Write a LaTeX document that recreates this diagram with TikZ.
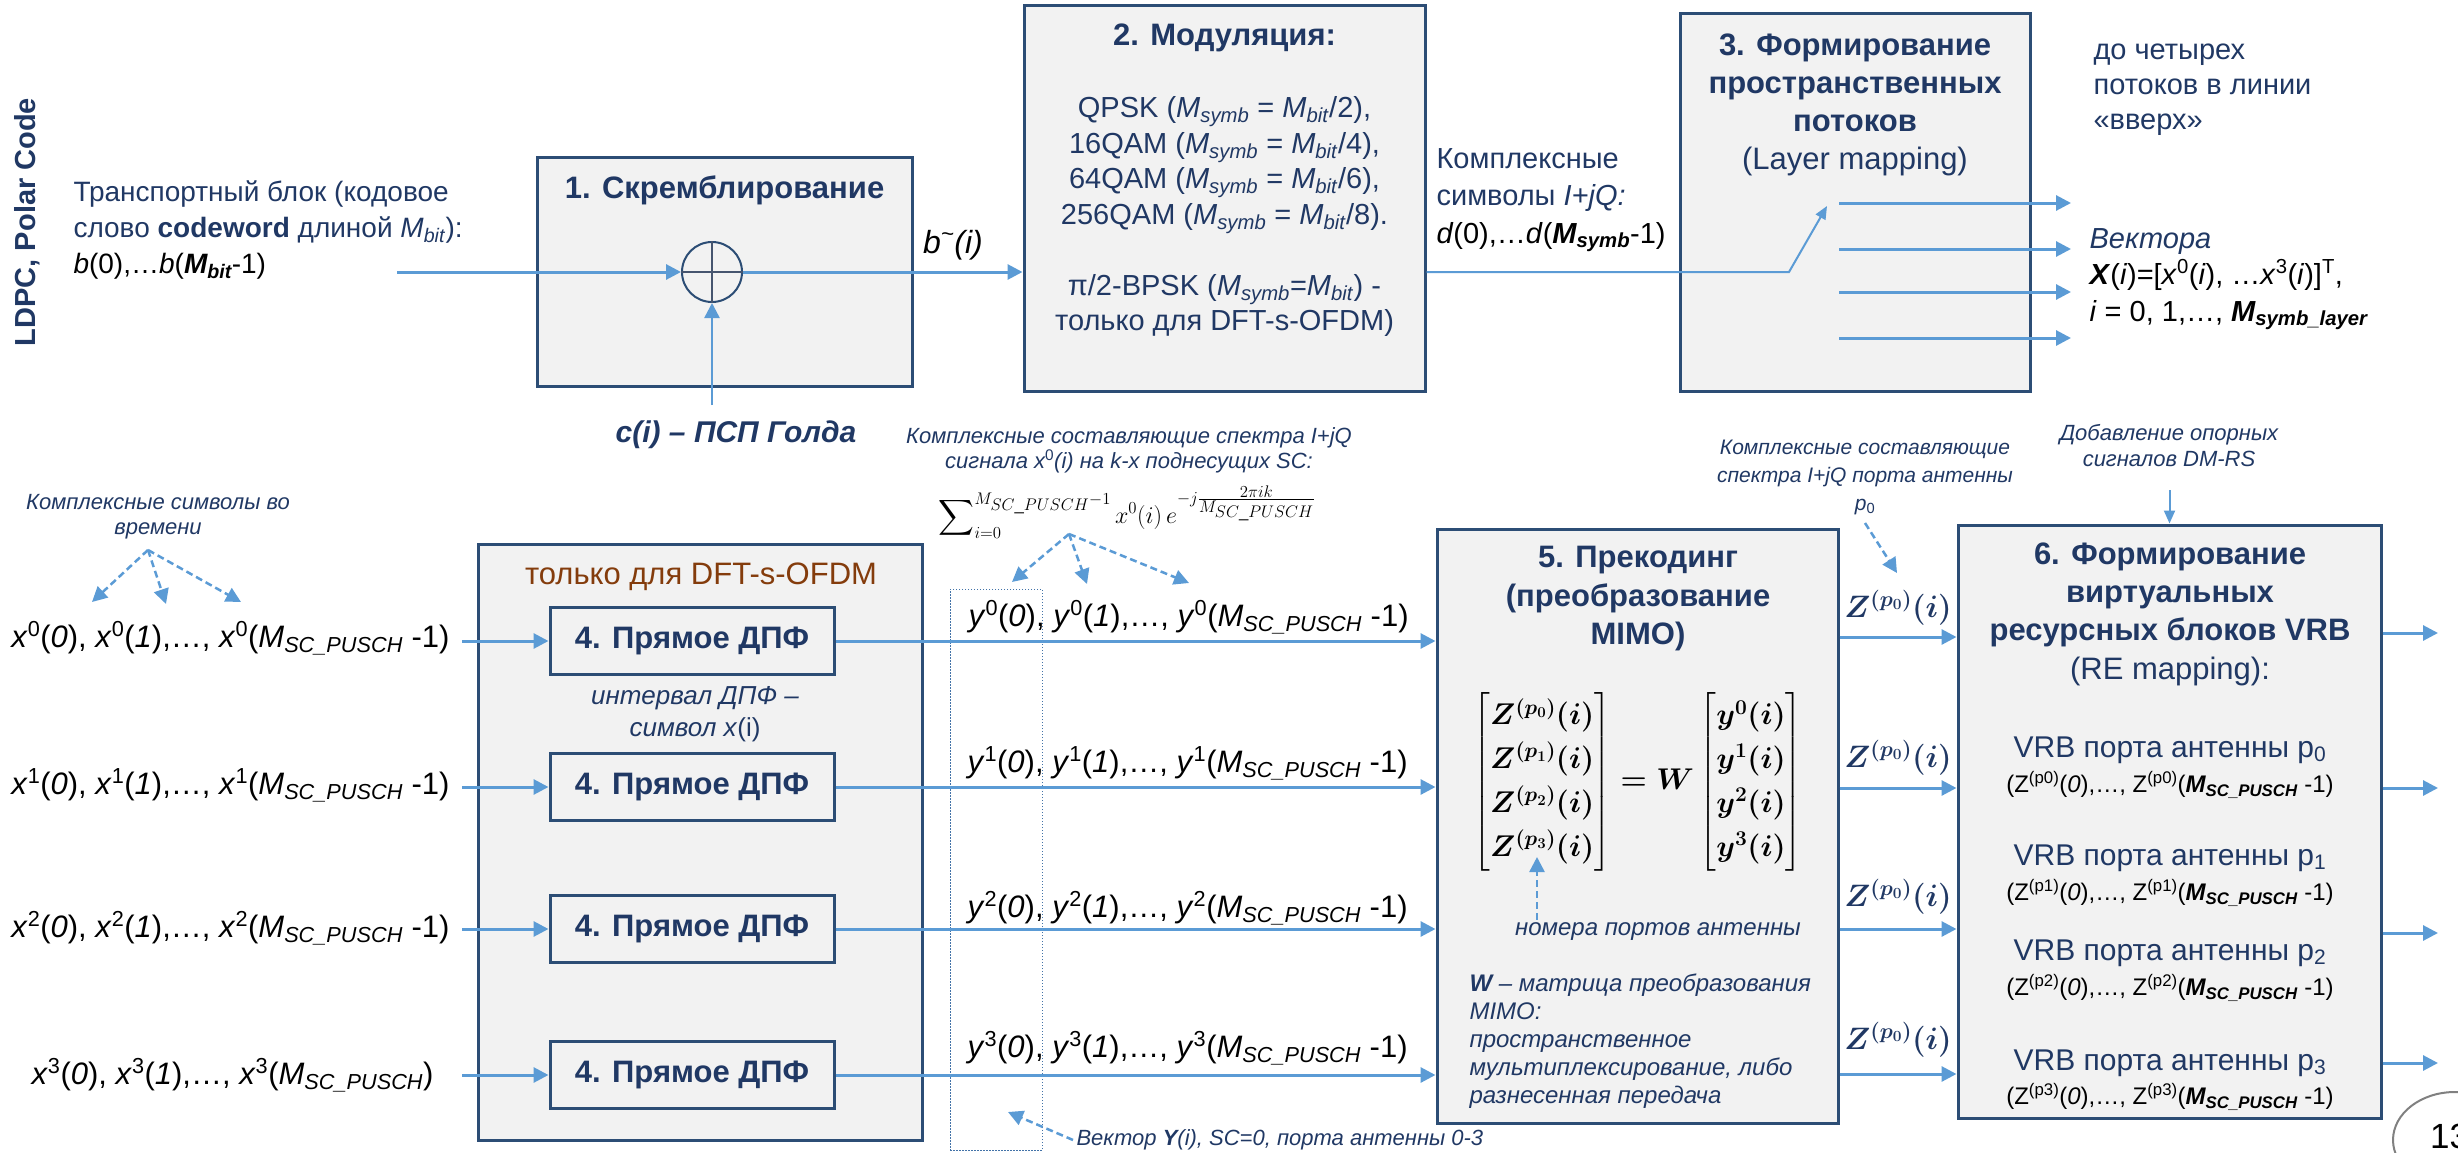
\RequirePackage{fix-cm}
\documentclass[tikz,border=0pt]{standalone}
\usepackage{amsmath}
\usepackage{bm}
\usepackage[no-math]{fontspec}
\setmainfont{Liberation Sans}
\usetikzlibrary{arrows.meta}

\definecolor{dkblue}{HTML}{203864}
\definecolor{bordblue}{HTML}{2C4D75}
\definecolor{arrblue}{HTML}{5B9BD5}
\definecolor{boxgray}{HTML}{F2F2F2}
\definecolor{dftbrown}{HTML}{843C0C}
\definecolor{pagegray}{HTML}{808080}

\newcommand\fsz[2]{\fontsize{#1}{#2}\selectfont}
\newcommand\lowtxt[1]{\textsubscript{#1}}
\newcommand\hightxt[1]{\textsuperscript{#1}}
\newcommand\Msc{\textit{M}\lowtxt{\textit{SC\_PUSCH}}}
\newcommand\Mscb{\textbf{\textit{M\lowtxt{SC\_PUSCH}}}}
\newcommand\Msymb{\textit{M}\lowtxt{\textit{symb}}}
\newcommand\Mbit{\textit{M}\lowtxt{\textit{bit}}}
\newcommand\zlab{{\boldmath$Z^{(p_0)}(i)$}}
\newsavebox\mtxbox
\newsavebox\sumbox

\begin{document}
% precoding equation, set once and placed as a box
\sbox\mtxbox{\fsz{30}{36}\renewcommand\arraystretch{1.22}\boldmath
  $\left[\begin{array}{@{}c@{}} Z^{(p_0)}(i)\\ Z^{(p_1)}(i)\\ Z^{(p_2)}(i)\\ Z^{(p_3)}(i)\end{array}\right]
   = W \left[\begin{array}{@{}c@{}} y^{0}(i)\\ y^{1}(i)\\ y^{2}(i)\\ y^{3}(i)\end{array}\right]$}%
% DFT of the first stream
\sbox\sumbox{\fsz{24}{28}%
  $\displaystyle\sum\nolimits_{i=0}^{M_{\scriptstyle SC\_PUSCH}-1} x^{0}(i)\,
   e^{-j\frac{\scriptstyle 2\pi ik}{\scriptstyle M_{\scriptstyle SC\_PUSCH}}}$}%
\begin{tikzpicture}[x=1pt,y=-1pt,
  blk/.style={draw=bordblue, line width=3pt, fill=boxgray, inner sep=0pt},
  arr/.style={draw=arrblue, line width=3pt, -{Triangle[length=15pt,width=15pt]}},
  tarr/.style={draw=arrblue, line width=2pt, -{Triangle[length=13pt,width=11pt]}},
  darr/.style={draw=arrblue, line width=2.5pt, dash pattern=on 7pt off 4pt, -{Triangle[length=15pt,width=15pt]}},
  ttl/.style={text=dkblue, font=\bfseries\fsz{31}{38.5}, align=center},
  txt/.style={text=dkblue, font=\fsz{29}{35}, align=center},
  anno/.style={text=dkblue, font=\itshape\fsz{22}{25}, align=center},
  rowtxt/.style={text=black, font=\fsz{31}{36}},
]
\useasboundingbox (0,0) rectangle (2458,1153);

% ---------- block frames ----------
\node[blk, minimum width=375pt, minimum height=228pt] (b1) at (724.5,272) {};
\node[blk, minimum width=401pt, minimum height=385pt] (b2) at (1224.5,198.5) {};
\node[blk, minimum width=350pt, minimum height=377pt] (b3) at (1855,202.5) {};
\node[blk, minimum width=444pt, minimum height=596pt] (dft) at (700,842) {};
\node[blk, minimum width=401pt, minimum height=594pt] (b5) at (1637.5,826) {};
\node[blk, minimum width=423pt, minimum height=593pt] (b6) at (2169.5,821.5) {};
\foreach \k/\yy in {1/641,2/787,3/929,4/1075}
  \node[blk, ttl, minimum width=284pt, minimum height=67pt] (d\k) at (692,\yy) {4. Прямое ДПФ};
\node[draw=arrblue!60!dkblue, line width=1pt, dash pattern=on 1.5pt off 1.5pt,
      minimum width=92pt, minimum height=561pt, inner sep=0pt] (yvec) at (996,869.5) {};

% ---------- 1. scrambling ----------
\node[rotate=90, text=dkblue, font=\bfseries\fsz{29}{34}] (ldpc) at (27,222) {LDPC, Polar Code};
\node[txt, anchor=west, align=left, font=\fsz{28}{36}] (tb) at (70,230)
  {Транспортный блок (кодовое\\
   слово \textbf{codeword} длиной \Mbit):\\
   \textcolor{black}{\textit{b}(0),…\textit{b}(\textbf{\textit{M\lowtxt{bit}}}-1)}};
\node[ttl] (b1t) at (724.5,190) {1. Скремблирование};
\node[circle, draw=bordblue, line width=2pt, minimum size=60pt, inner sep=0pt] (xor) at (712,272) {};
\draw[draw=dkblue!60!gray, line width=2.5pt] (xor.north) -- (xor.south) (xor.west) -- (xor.east);
\coordinate (tbin) at (397,272);
\draw[arr] (tbin) -- (xor.west);
\coordinate (cin) at (712,405);
\draw[arr, line width=2.5pt] (cin) -- (xor.south);
\node[text=dkblue, font=\bfseries\itshape\fsz{30}{36}] (gold) at (736,435) {c(i) – ПСП Голда};
\node[font=\itshape\fsz{32}{36}] (bt) at (953,245) {b\textsuperscript{\textasciitilde}(i)};
\draw[arr] (xor.east) -- (xor.east -| b2.west);

% ---------- 2. modulation ----------
\node[ttl] (b2t) at (1224.5,38) {2. Модуляция:};
\node[txt, font=\fsz{29}{35.5}] (mods) at (1224.5,165)
  {QPSK (\Msymb\ = \Mbit/2),\\
   16QAM (\Msymb\ = \Mbit/4),\\
   64QAM (\Msymb\ = \Mbit/6),\\
   256QAM (\Msymb\ = \Mbit/8).};
\node[txt] (bpsk) at (1224.5,305.5)
  {π/2-BPSK (\Msymb=\Mbit) -\\ только для DFT-s-OFDM)};

\coordinate (bend) at (1789,272);
\coordinate (lm) at (1827,206);
\draw[tarr] (b2.east |- bend) -- (bend) -- (lm);
\node[txt, anchor=west, align=left, font=\fsz{29}{37.5}] (cs) at (1433,200)
  {Комплексные\\ символы \textit{I+jQ:}\\
   \textcolor{black}{\textit{d}(0),…\textit{d}(\textbf{\textit{M\lowtxt{symb}}}-1)}};

% ---------- 3. layer mapping ----------
\node[ttl, font=\fsz{31}{38}] (b3t) at (1855,104.5)
  {\textbf{3. Формирование}\\ \textbf{пространственных}\\ \textbf{потоков}\\ (Layer mapping)};
\foreach \k/\yy in {1/203,2/249,3/292,4/338} {
  \coordinate (ls\k) at (1839,\yy);
  \coordinate (le\k) at (2071,\yy);
  \draw[arr] (ls\k) -- (le\k);
}
\node[txt, anchor=west, align=left] (upl) at (2090,90) {до четырех\\ потоков в линии\\ «вверх»};
\node[anchor=west, align=left, font=\fsz{29}{36.5}] (vec) at (2086,279)
  {\textcolor{dkblue}{\textit{Вектора}}\\
   \textbf{\textit{X}}(\textit{i})=[\textit{x}\hightxt{0}(\textit{i}), …\textit{x}\hightxt{3}(\textit{i})]\hightxt{T},\\
   \textit{i} = 0, 1,…, \textbf{\textit{M\lowtxt{symb\_layer}}}};

% ---------- 4. DFT ----------
\node[anno] (cst) at (158,517) {Комплексные символы во\\ времени};
\coordinate (cst0) at (148,550);
\coordinate (xa1) at (92,602);
\coordinate (xa2) at (166,604);
\coordinate (xa3) at (241,602);
\foreach \k in {1,2,3} \draw[darr] (cst0) -- (xa\k);

\node[text=dftbrown, font=\fsz{31}{36}] (dftl) at (701,577) {только для DFT-s-OFDM};
\node[anno, font=\itshape\fsz{26}{32}] (ivl) at (695,714) {интервал ДПФ –\\ символ x\textup{(i)}};

\node[rowtxt, anchor=east] (x0) at (453,638)
  {\textit{x}\hightxt{0}(\textit{0}), \textit{x}\hightxt{0}(\textit{1}),…, \textit{x}\hightxt{0}(\Msc{} -1)};
\node[rowtxt, anchor=east] (x1) at (453,785)
  {\textit{x}\hightxt{1}(\textit{0}), \textit{x}\hightxt{1}(\textit{1}),…, \textit{x}\hightxt{1}(\Msc{} -1)};
\node[rowtxt, anchor=east] (x2) at (453,928)
  {\textit{x}\hightxt{2}(\textit{0}), \textit{x}\hightxt{2}(\textit{1}),…, \textit{x}\hightxt{2}(\Msc{} -1)};
\node[rowtxt, anchor=east] (x3) at (437,1075)
  {\textit{x}\hightxt{3}(\textit{0}), \textit{x}\hightxt{3}(\textit{1}),…, \textit{x}\hightxt{3}(\Msc)};
\foreach \k in {1,2,3,4} {
  \coordinate (xs\k) at (462,0);
  \draw[arr] (xs\k |- d\k.west) -- (d\k.west);
  \draw[arr] (d\k.east) -- (d\k.east -| b5.west);
}

% ---------- spectra ----------
\node[anno] (spn) at (1129,450)
  {Комплексные составляющие спектра I+jQ\\ сигнала \textit{x}\hightxt{\textup{0}}(\textit{i}) на \textit{k}-х поднесущих SC:};
\node[text=dkblue, inner sep=0pt] (dftsum) at (1127,512) {\usebox\sumbox};
\coordinate (sm0) at (1069,534);
\coordinate (ya1) at (1012,582);
\coordinate (ya2) at (1087,584);
\coordinate (ya3) at (1189,583);
\foreach \k in {1,2,3} \draw[darr] (sm0) -- (ya\k);

\node[rowtxt, anchor=west] (y0) at (965,617)
  {\textit{y}\hightxt{0}(\textit{0}), \textit{y}\hightxt{0}(\textit{1}),…, \textit{y}\hightxt{0}(\Msc{} -1)};
\node[rowtxt, anchor=west] (y1) at (964,763)
  {\textit{y}\hightxt{1}(\textit{0}), \textit{y}\hightxt{1}(\textit{1}),…, \textit{y}\hightxt{1}(\Msc{} -1)};
\node[rowtxt, anchor=west] (y2) at (964,908)
  {\textit{y}\hightxt{2}(\textit{0}), \textit{y}\hightxt{2}(\textit{1}),…, \textit{y}\hightxt{2}(\Msc{} -1)};
\node[rowtxt, anchor=west] (y3) at (964,1048)
  {\textit{y}\hightxt{3}(\textit{0}), \textit{y}\hightxt{3}(\textit{1}),…, \textit{y}\hightxt{3}(\Msc{} -1)};

\node[anno, anchor=west] (vlab) at (1073,1140) {Вектор \textbf{Y}(\textit{i}), SC=0, порта антенны 0-3};
\coordinate (vtip) at (1008,1112);
\draw[darr] (vlab.west) -- (vtip);

% ---------- 5. precoding ----------
\node[ttl] (b5t) at (1638,599) {5. Прекодинг\\ (преобразование\\ MIMO)};
\node[inner sep=0pt] (mtx) at (1638,782) {\usebox\mtxbox};
\node[anno, font=\itshape\fsz{24}{28}] (nom) at (1658,932) {номера портов антенны};
\coordinate (zp3) at (1537,857);
\draw[darr] (nom.north -| zp3) -- (zp3);
\node[anno, anchor=west, align=left, font=\itshape\fsz{24}{28}] (wtx) at (1466,1041)
  {\textbf{W} – матрица преобразования\\ MIMO:\\ пространственное\\ мультиплексирование, либо\\ разнесенная передача};

\foreach \k/\yy/\yl in {1/637/608,2/788/758,3/929/897,4/1074/1040} {
  \coordinate (zr\k) at (1900,\yy);
  \draw[arr] (b5.east |- zr\k) -- (b6.west |- zr\k);
  \node[text=dkblue, font=\fsz{31}{36}] (zl\k) at (1898,\yl) {\zlab};
}
\node[anno, font=\itshape\fsz{21}{28}] (pnote) at (1865,477)
  {Комплексные составляющие\\ спектра I+jQ порта антенны\\ \textit{p}\lowtxt{\textup{0}}};
\coordinate (pn0) at (1865,523);
\coordinate (pn1) at (1897,573);
\draw[darr] (pn0) -- (pn1);

% ---------- 6. RE mapping ----------
\node[anno, font=\itshape\fsz{22}{26}] (dmrs) at (2169,446) {Добавление опорных\\ сигналов DM-RS};
\coordinate (dm0) at (2169.5,490);
\draw[tarr] (dm0) -- (b6.north);
\node[ttl, font=\fsz{31}{38.3}] (b6t) at (2170,614)
  {\textbf{6. Формирование}\\ \textbf{виртуальных}\\ \textbf{ресурсных блоков VRB}\\ (RE mapping):};
\foreach \k/\ya/\yb in {0/750/785,1/858/893,2/953/988,3/1063/1097} {
  \node[txt, font=\fsz{30}{34}] (vrb\k) at (2170,\ya) {VRB порта антенны p\lowtxt{\k}};
  \node[font=\fsz{24}{28}] (vrbz\k) at (2170,\yb)
    {(Z\hightxt{(p\k)}(\textit{0}),…, Z\hightxt{(p\k)}(\Mscb{} -1)};
}
\foreach \k/\yy in {1/633,2/788,3/933,4/1063} {
  \coordinate (o\k) at (2438,\yy);
  \draw[arr] (b6.east |- o\k) -- (o\k);
}

% ---------- page number ----------
\begin{scope}
  \clip (0,0) rectangle (2458,1153);
  \draw[pagegray, line width=2pt] (2455,1140) ellipse [x radius=62pt, y radius=48pt];
  \node[anchor=base west, font=\fsz{35}{40}, inner sep=0pt] (pg) at (2430,1148) {13};
\end{scope}
\end{tikzpicture}
\end{document}
